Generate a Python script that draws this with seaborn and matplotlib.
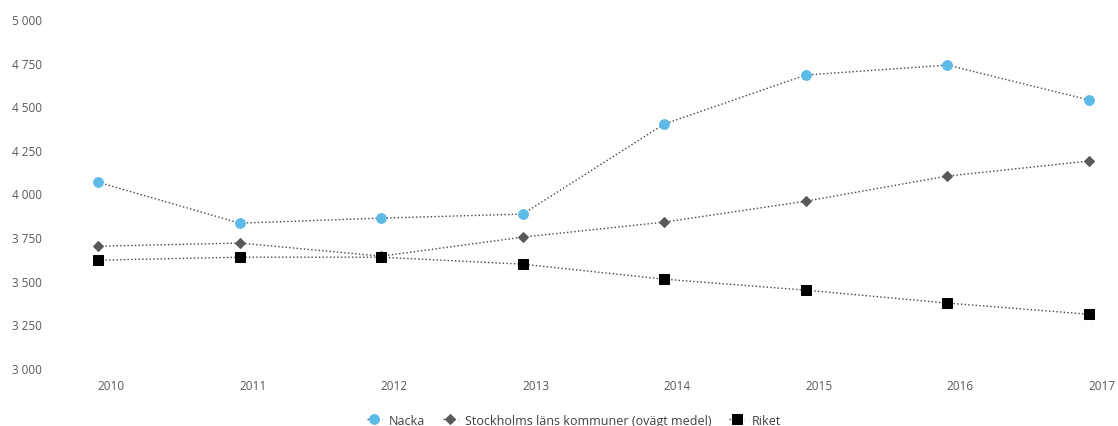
import matplotlib
matplotlib.use("Agg")
import matplotlib.pyplot as plt
import matplotlib.transforms as mtransforms
from matplotlib.ticker import FuncFormatter
import seaborn as sns
import pandas as pd

# data
years = [2010, 2011, 2012, 2013, 2014, 2015, 2016, 2017]
nacka = [4065, 3830, 3859, 3882, 4398, 4679, 4736, 4536]
stockholm = [3698, 3716, 3641, 3750, 3836, 3956, 4100, 4186]
riket = [3618, 3635, 3635, 3595, 3509, 3446, 3372, 3308]

series = [
    ("Nacka", nacka, "o", "#5DBAE6", 7),
    ("Stockholms läns kommuner (ovägt medel)", stockholm, "D", "#595959", 5),
    ("Riket", riket, "s", "#000000", 7),
]

sns.set_style("white")
plt.rcParams["font.family"] = ["Open Sans", "DejaVu Sans"]

fig = plt.figure(figsize=(11.18, 4.27), dpi=100)
ax = fig.add_axes([88 / 1118, 1 - 369 / 427, 1012 / 1118, 349 / 427])

for name, vals, marker, color, ms in series:
    df = pd.DataFrame({"year": years, "value": vals})
    sns.lineplot(data=df, x="year", y="value", ax=ax, color="#444444",
                 linestyle=":", linewidth=1.0, marker=marker, markersize=ms,
                 markerfacecolor=color, markeredgecolor=color, label=name)

ax.set_xlim(2009.929, 2017.078)
ax.set_ylim(3000, 5000)
ax.set_yticks(range(3000, 5001, 250))
ax.yaxis.set_major_formatter(FuncFormatter(lambda v, p: f"{int(v):,}".replace(",", " ")))
ax.set_xticks(years)
ax.set_xticklabels([str(y) for y in years])
ax.set_xlabel("")
ax.set_ylabel("")

ax.tick_params(axis="both", length=0, labelsize=8.5, labelcolor="#595959")
ax.tick_params(axis="y", pad=55)
ax.tick_params(axis="x", pad=8)
for lbl in ax.get_yticklabels():
    lbl.set_horizontalalignment("left")

# x labels sit slightly right of the points in the reference
offset = mtransforms.ScaledTranslation(13 / 100, 0, fig.dpi_scale_trans)
for lbl in ax.get_xticklabels():
    lbl.set_transform(lbl.get_transform() + offset)

ax.grid(axis="y", color="#ececec", linestyle=(0, (1, 6)), linewidth=0.8)
for s in ax.spines.values():
    s.set_visible(False)

ax.legend(loc="lower center", bbox_to_anchor=(0.5 - 20 / 1012, -0.2), ncol=3,
          frameon=False, fontsize=9, handlelength=1.2, handletextpad=0.6,
          columnspacing=1.4, labelcolor="#404040")

fig.savefig("out.png", dpi=100)
